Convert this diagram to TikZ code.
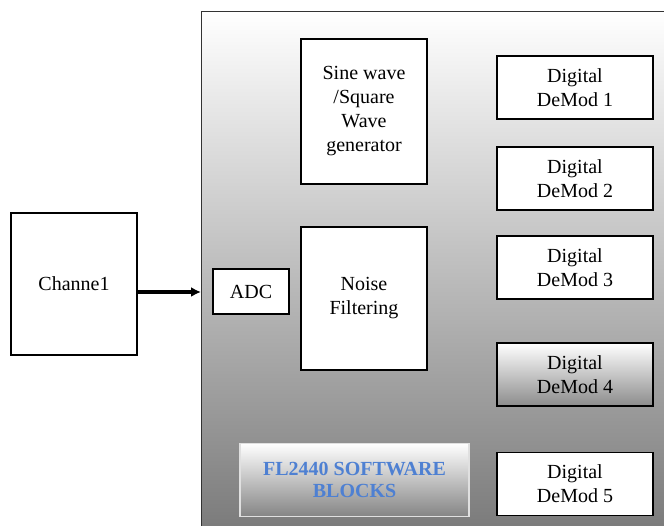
\documentclass[tikz,border=0pt]{standalone}
\usepackage{fontspec}
\setmainfont{Liberation Serif}
\usetikzlibrary{arrows.meta}
\definecolor{panelgray}{RGB}{112,112,112}
\definecolor{titleblue}{RGB}{78,128,210}
\tikzset{
  blockbox/.style={draw=black, line width=1.7pt, fill=white, rectangle,
    align=center, inner sep=2pt,
    font=\fontsize{20}{24}\selectfont},
  demod/.style={blockbox, minimum width=156pt, minimum height=63pt},
  flow/.style={line width=3.2pt, -{Latex[length=10pt,width=10pt]}}
}
\begin{document}
\begin{tikzpicture}[x=1pt, y=-1pt]
  \useasboundingbox (0,0) rectangle (664,526);
  \clip (0,0) rectangle (664,526);
  % software panel, running past the right and bottom edges
  \node[draw=black!80, line width=1.4pt, rectangle, shade,
        top color=white, bottom color=panelgray,
        minimum width=540pt, minimum height=560pt, anchor=north west]
        (sw) at (201,11) {};

  \node[blockbox, minimum width=126pt, minimum height=142pt] (ch) at (74,284) {Channe1};
  \node[blockbox, minimum width=76pt, minimum height=45pt] (adc) at (251,291.5) {ADC};
  \node[blockbox, minimum width=126pt, minimum height=145pt] (gen) at (364,111.5)
       {Sine wave\\/Square\\Wave\\generator};
  \node[blockbox, minimum width=126pt, minimum height=143pt] (nf) at (364,298.5)
       {Noise\\Filtering};

  \node[demod] (d1) at (575,87.5)  {Digital\\DeMod 1};
  \node[demod] (d2) at (575,178.5) {Digital\\DeMod 2};
  \node[demod] (d3) at (575,267.5) {Digital\\DeMod 3};
  \node[demod, shade, top color=white, bottom color=black!45] (d4) at (575,374.5) {Digital\\DeMod 4};
  \node[demod] (d5) at (575,484)   {Digital\\DeMod 5};

  \node[rectangle, draw=black!12, line width=1.2pt, shade,
        top color=white, bottom color=black!48,
        minimum width=229pt, minimum height=73pt, align=center,
        font=\fontsize{20}{22}\selectfont\bfseries, text=titleblue]
        (fl) at (354.5,480) {FL2440 SOFTWARE\\BLOCKS};

  \coordinate (in) at (201,292);
  \draw[flow] (ch.east |- in) -- (in);
\end{tikzpicture}
\end{document}
